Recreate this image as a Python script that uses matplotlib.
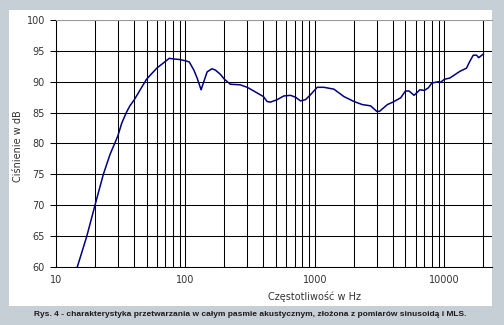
import matplotlib
matplotlib.use('Agg')
import matplotlib.pyplot as plt
from matplotlib.patches import Rectangle

# frequency response
freq = [14.6, 17.3, 20, 23.2, 26.1, 30, 32.2, 34.9, 37.2, 40, 45, 50, 60, 70, 75, 80,
        90, 100, 107, 116, 123, 132, 140, 147, 160, 170, 186, 200, 222, 265, 300,
        337, 400, 427, 453, 511, 574, 647, 708, 773, 845, 924, 1040, 1172, 1400,
        1674, 2000, 2322, 2692, 3000, 3150, 3623, 4000, 4594, 5000, 5330, 5830,
        6460, 7000, 7500, 8000, 9000, 9300, 10000, 11000, 13200, 14800, 15700,
        16700, 17700, 18400, 20000]
level = [60, 65, 70, 75, 78.2, 81.2, 83.3, 85.0, 86.1, 87.0, 88.8, 90.4, 92.2, 93.3, 93.8,
         93.7, 93.6, 93.4, 93.2, 91.9, 90.6, 88.7, 90.3, 91.6, 92.1, 91.9, 91.2, 90.4,
         89.6, 89.5, 89.1, 88.5, 87.6, 86.8, 86.7, 87.1, 87.7, 87.8, 87.5, 86.9, 87.1,
         87.9, 89.1, 89.1, 88.8, 87.6, 86.8, 86.3, 86.1, 85.2, 85.2, 86.3, 86.7, 87.4,
         88.5, 88.5, 87.8, 88.7, 88.6, 89.0, 89.8, 90.0, 89.9, 90.4, 90.6, 91.7, 92.2,
         93.3, 94.3, 94.3, 93.9, 94.5]

x_ticks = [10, 100, 1000, 10000]
x_labels = ['10', '100', '1000', '10000']
y_ticks = [60, 65, 70, 75, 80, 85, 90, 95, 100]

W, H = 504, 325
fig = plt.figure(figsize=(W / 100, H / 100), dpi=100)
fig.patch.set_facecolor('#c6ced6')

# white panel behind everything
fig.add_artist(Rectangle((9 / W, 1 - 306 / H), 483 / W, 296 / H,
                         transform=fig.transFigure, facecolor='white',
                         edgecolor='none', zorder=-10))

ax = fig.add_axes([56 / W, 1 - 267 / H, 436 / W, 247 / H])
ax.set_facecolor('white')
ax.set_xscale('log')
ax.set_xlim(10, 23300)
ax.set_ylim(60, 100)

ax.plot(freq, level, color='#000080', lw=1.1, zorder=3)

ax.set_xticks(x_ticks)
ax.set_xticklabels(x_labels)
ax.set_yticks(y_ticks)
ax.tick_params(axis='x', which='both', length=0, pad=6, labelsize=7, labelcolor='#333333')
ax.tick_params(axis='y', length=4, width=0.75, pad=4, labelsize=7, labelcolor='#333333')
ax.grid(True, which='both', axis='x', color='black', lw=0.75)
ax.grid(True, which='major', axis='y', color='black', lw=0.75)

ax.spines['right'].set_visible(False)
ax.spines['top'].set_color('#999999')
ax.spines['top'].set_linewidth(0.75)
ax.spines['left'].set_color('black')
ax.spines['left'].set_linewidth(0.75)
ax.spines['bottom'].set_color('black')
ax.spines['bottom'].set_linewidth(0.75)

fig.text(315 / W, 1 - 296 / H, 'Częstotliwość w Hz', ha='center', va='center',
         fontsize=7, color='#333333')
fig.text(18 / W, 1 - 146 / H, 'Ciśnienie w dB', ha='center', va='center',
         rotation=90, fontsize=7, color='#333333')
fig.text(250 / W, 1 - 314 / H,
         'Rys. 4 - charakterystyka przetwarzania w całym pasmie akustycznym, złożona z pomiarów sinusoidą i MLS.',
         ha='center', va='center', fontsize=6.0, fontweight='bold', color='#1a1a1a',
         family='Liberation Sans')

fig.savefig('out.png', dpi=100, facecolor=fig.get_facecolor())
